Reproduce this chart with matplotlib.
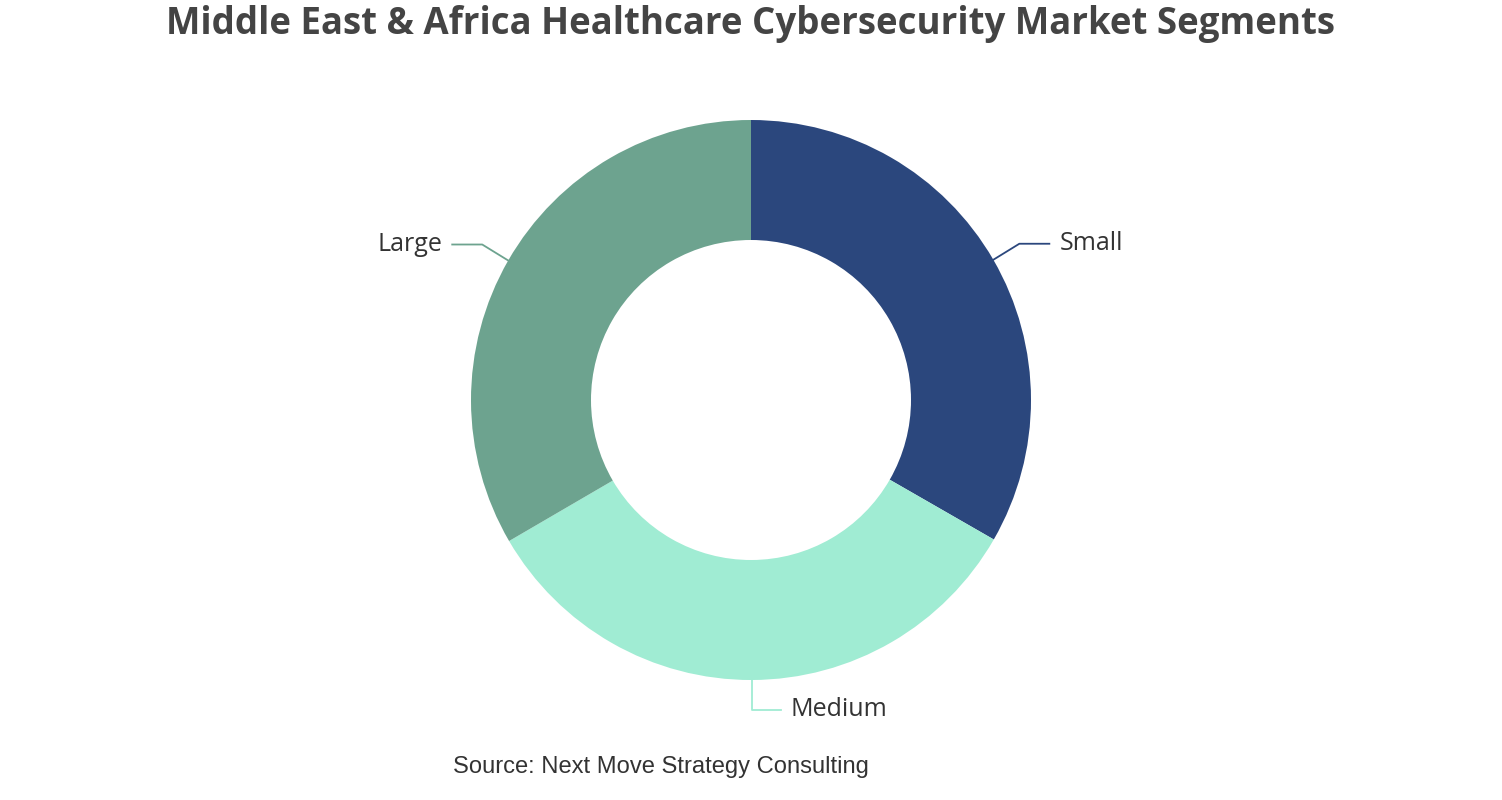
import numpy as np
import matplotlib.pyplot as plt

# segment data
segments = ['Small', 'Medium', 'Large']
shares = [33.3, 33.3, 33.4]
colors = ['#2b477d', '#a0ecd3', '#6da38f']

title = 'Middle East & Africa Healthcare Cybersecurity Market Segments'
source = 'Source: Next Move Strategy Consulting'

W, H = 1502, 800
fig = plt.figure(figsize=(W / 100, H / 100), dpi=100)
ax = fig.add_axes([0, 0, 1, 1])

cx, cy = 751, H - 400
r_out, r_in = 280, 160

wedges, _ = ax.pie(shares, colors=colors, startangle=90, counterclock=False,
                   center=(cx, cy), radius=r_out, frame=True,
                   wedgeprops=dict(width=r_out - r_in, linewidth=0))
ax.set_xlim(0, W)
ax.set_ylim(0, H)
ax.set_aspect('equal')
ax.axis('off')

# leader lines and labels
for w, name, col in zip(wedges, segments, colors):
    ang = np.deg2rad((w.theta1 + w.theta2) / 2)
    x0 = cx + r_out * np.cos(ang)
    y0 = cy + r_out * np.sin(ang)
    if abs(np.cos(ang)) < 0.1:
        # bottom label: straight down, then right
        xs = [x0, x0, x0 + 29]
        ys = [y0, y0 - 30, y0 - 30]
        ax.plot(xs, ys, color=col, lw=1.3)
        ax.text(x0 + 39, y0 - 30, name, fontsize=18, color='#333333',
                ha='left', va='center', family='Open Sans')
    else:
        s = 1 if np.cos(ang) > 0 else -1
        xs = [x0, x0 + s * 26, x0 + s * 56]
        ys = [y0, y0 + 16, y0 + 16]
        ax.plot(xs, ys, color=col, lw=1.3)
        ax.text(x0 + s * 66, y0 + 16, name, fontsize=18, color='#333333',
                ha='left' if s > 0 else 'right', va='center', family='Open Sans')

fig.text(751 / W, 1 - 24 / H, title, ha='center', va='center', fontsize=26.4,
         fontweight='bold', color='#444444', family='Open Sans')
fig.text(661 / W, 1 - 767 / H, source, ha='center', va='center', fontsize=17.1,
         color='#333333', family='Liberation Sans')

fig.savefig('out.png', dpi=100)
